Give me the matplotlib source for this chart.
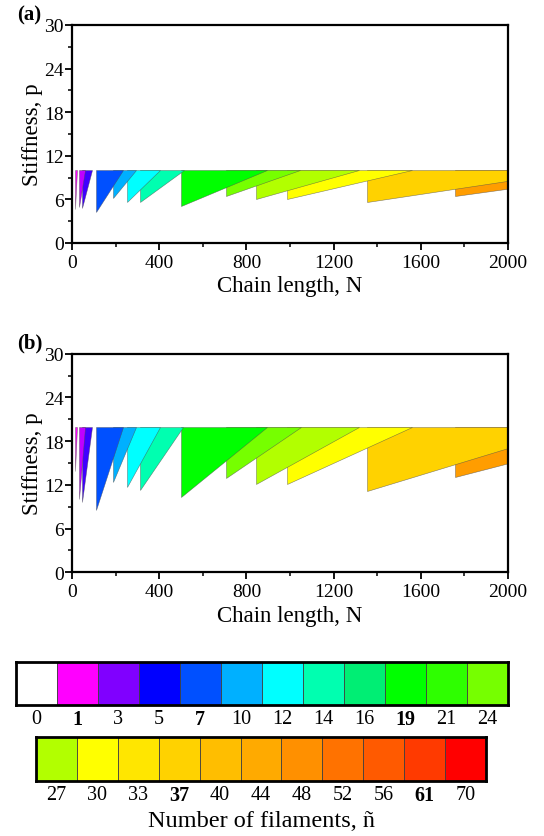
import numpy as np
import matplotlib
matplotlib.use("Agg")
import matplotlib.pyplot as plt
from matplotlib.colors import to_rgb

plt.rcParams['font.family'] = ['Liberation Serif', 'DejaVu Serif']

# colour key (two strips)
cb1_labels = ['0', '1', '3', '5', '7', '10', '12', '14', '16', '19', '21', '24']
cb1_colors = ['#ffffff', '#ff00ff', '#8000ff', '#0000ff', '#0050ff', '#00b0ff',
              '#00ffff', '#00ffb0', '#00ee74', '#00ff00', '#2eff00', '#76ff00']
cb2_labels = ['27', '30', '33', '37', '40', '44', '48', '52', '56', '61', '70']
cb2_colors = ['#b2ff00', '#ffff00', '#ffe600', '#ffd200', '#ffbe00', '#ffaa00',
              '#ff9000', '#ff7200', '#ff5a00', '#ff3a00', '#ff0000']
bold_labels = ['1', '7', '19', '37', '61']

# regions: number of filaments, chain length where it starts,
# chain length where its lower boundary reaches the top of the range,
# stiffness at the start (panel a, panel b)
n_fil = [1, 2, 4, 7, 10, 12, 14, 19, 24, 27, 30, 37, 46]
N_start = [15, 30, 48, 110, 188, 250, 314, 500, 708, 844, 988, 1352, 1757]
N_top_a = [24, 58, 92, 234, 295, 403, 512, 895, 1047, 1315, 1558, 2330, 2620]
N_top_b = [24, 58, 92, 234, 295, 404, 509, 896, 1049, 1317, 1558, 2318, 2640]
p_start_a = [4.7, 5.0, 4.8, 4.3, 6.2, 5.7, 5.6, 5.1, 6.4, 6.0, 6.0, 5.6, 6.5]
p_start_b = [13.9, 10.1, 9.6, 8.6, 12.4, 11.7, 11.3, 10.4, 12.9, 12.1, 12.1, 11.2, 13.1]
p_max_a = 10
p_max_b = 20

# colour for any n, interpolated along the key
key_n = np.array([int(s) for s in cb1_labels + cb2_labels])
key_rgb = np.array([to_rgb(c) for c in cb1_colors + cb2_colors])


def color_of(n):
    return tuple(np.interp(n, key_n, key_rgb[:, k]) for k in range(3))


W, H = 544, 837
fig = plt.figure(figsize=(W / 100, H / 100), dpi=100)


def panel(rect, p_start, N_top, p_max, tag):
    ax = fig.add_axes(rect)
    # smaller n is drawn last, on top
    for i in reversed(range(len(n_fil))):
        ax.fill([N_start[i], N_start[i], N_top[i]], [p_start[i], p_max, p_max],
                color=color_of(n_fil[i]), ec=(0.3, 0.3, 0.3, 0.7), lw=0.4)
    ax.set_xlim(0, 2000)
    ax.set_ylim(0, 30)
    ax.set_xticks(np.arange(0, 2001, 400))
    ax.set_xticks(np.arange(0, 2001, 200), minor=True)
    ax.set_yticks(np.arange(0, 31, 6))
    ax.set_yticks(np.arange(0, 31, 3), minor=True)
    ax.tick_params(which='major', direction='out', length=5, width=1.3,
                   labelsize=14)
    ax.tick_params(axis='x', which='major', pad=3)
    ax.tick_params(axis='y', which='major', pad=1)
    ax.tick_params(which='minor', direction='out', length=3, width=1.1)
    for s in ax.spines.values():
        s.set_linewidth(1.6)
    ax.set_xlabel('Chain length, N', fontsize=16.5, labelpad=3)
    ax.set_ylabel('Stiffness, p', fontsize=16.5, labelpad=1)
    fig.text(17 / W, rect[1] + rect[3] + 11 / H, tag, fontsize=15,
             fontweight='bold', va='center', ha='left')
    return ax


panel([72 / W, 1 - 244 / H, 436 / W, 218 / H], p_start_a, N_top_a, p_max_a, '(a)')
panel([72 / W, 1 - 573.3 / H, 436 / W, 218.6 / H], p_start_b, N_top_b, p_max_b, '(b)')


def strip(rect, labels, colors, xlabel=None):
    ax = fig.add_axes(rect)
    x = np.arange(len(labels))
    ax.bar(x, 1, width=1, align='edge', color=colors, edgecolor=(0.25, 0.25, 0.25),
           linewidth=0.6)
    ax.set_xlim(0, len(labels))
    ax.set_ylim(0, 1)
    ax.set_yticks([])
    ax.set_xticks(x + 0.5)
    ax.set_xticklabels(labels, fontsize=14.5)
    for t in ax.get_xticklabels():
        if t.get_text() in bold_labels:
            t.set_fontweight('bold')
    ax.tick_params(axis='x', length=0, pad=3)
    for s in ax.spines.values():
        s.set_linewidth(2)
    if xlabel:
        ax.set_xlabel(xlabel, fontsize=17.5, labelpad=3)
    return ax


strip([15.7 / W, 1 - 706 / H, 492 / W, 42.7 / H], cb1_labels, cb1_colors)
strip([36 / W, 1 - 782.3 / H, 450 / W, 44 / H], cb2_labels, cb2_colors,
      'Number of filaments, ñ')

fig.savefig('out.png', dpi=100)
